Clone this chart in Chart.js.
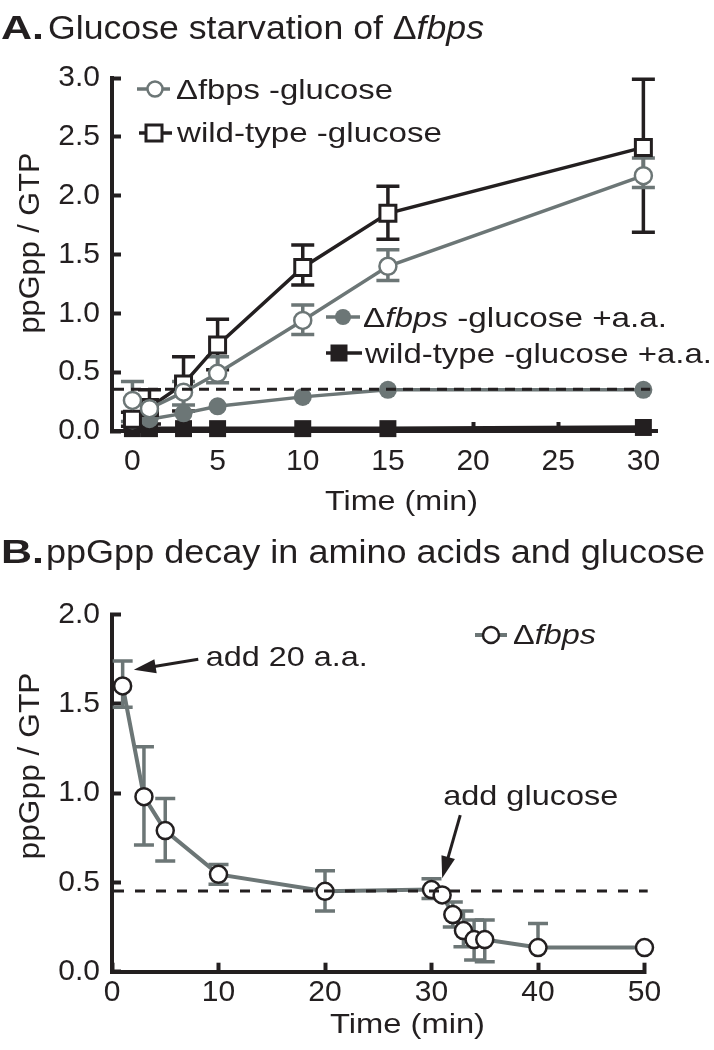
<!DOCTYPE html>
<html>
<head>
<meta charset="utf-8">
<script src="https://cdn.jsdelivr.net/npm/chart.js@4.4.1/dist/chart.umd.min.js"></script>
<style>
  html, body { margin: 0; padding: 0; background: #fff; }
  #wrap { position: relative; width: 714px; height: 1050px; }
  canvas { position: absolute; left: 0; }
  #chart-a { top: 0; }
  #chart-b { top: 520px; }
</style>
</head>
<body>
<div id="wrap">
  <canvas id="chart-a" width="714" height="520"></canvas>
  <canvas id="chart-b" width="714" height="530"></canvas>
</div>
<script>
const INK = '#231f20';
const GREY = '#6c7676';
const FONT = "'Liberation Sans', Arial, Helvetica, sans-serif";

// ---- Panel A: glucose starvation ----
const timesA = [0, 1, 3, 5, 10, 15, 30];
const fbpsGlc = [0.26, 0.19, 0.33, 0.49, 0.94, 1.40, 2.17];
const fbpsGlcHi = [0.42, 0.19, 0.42, 0.63, 1.07, 1.54, 2.32];
const fbpsGlcLo = [0.08, 0.19, 0.22, 0.41, 0.82, 1.28, 2.07];
const wtGlc = [0.10, 0.20, 0.40, 0.73, 1.39, 1.85, 2.41];
const wtGlcHi = [0.16, 0.35, 0.63, 0.95, 1.58, 2.08, 2.99];
const wtGlcLo = [0.04, 0.06, 0.17, 0.52, 1.24, 1.63, 1.69];
const fbpsAA = [0.09, 0.10, 0.15, 0.21, 0.29, 0.35, 0.35];
const wtAA = [0.02, 0.02, 0.02, 0.02, 0.02, 0.02, 0.03];
const xTicksA = [0, 5, 10, 15, 20, 25, 30];
const yTicksA = [0, 0.5, 1.0, 1.5, 2.0, 2.5, 3.0];
const dashLevelA = 0.355;

// ---- Panel B: decay after amino acids, then glucose ----
const timesB = [1, 3, 5, 10, 20, 30, 31, 32, 33, 34, 35, 40, 50];
const fbpsB = [1.60, 0.98, 0.79, 0.545, 0.45, 0.46, 0.43, 0.32, 0.23, 0.18, 0.18, 0.135, 0.135];
const fbpsBHi = [1.74, 1.26, 0.97, 0.60, 0.565, 0.52, 0.43, 0.39, 0.34, 0.29, 0.29, 0.27, 0.135];
const fbpsBLo = [1.48, 0.71, 0.62, 0.49, 0.34, 0.41, 0.43, 0.25, 0.14, 0.065, 0.056, 0.135, 0.135];
const xTicksB = [0, 10, 20, 30, 40, 50];
const yTicksB = [0, 0.5, 1.0, 1.5, 2.0];
const dashLevelB = 0.452;

Chart.defaults.font.family = FONT;
Chart.defaults.color = INK;

const pts = (xs, ys) => xs.map((x, i) => ({ x: x, y: ys[i] }));

function drawText(ctx, parts, x, y, size, width, opts) {
  opts = opts || {};
  ctx.save();
  ctx.fillStyle = INK;
  ctx.textBaseline = 'alphabetic';
  ctx.textAlign = 'left';
  const fontOf = s => (s || '') + ' ' + size + 'px ' + FONT;
  let total = 0;
  parts.forEach(p => { ctx.font = fontOf(p[1]); total += ctx.measureText(p[0]).width; });
  const sx = width ? width / total : 1;
  ctx.translate(x, y);
  if (opts.rotate) ctx.rotate(opts.rotate);
  if (opts.center) ctx.translate(-total * sx / 2, 0);
  ctx.scale(sx, 1);
  let cx = 0;
  parts.forEach(p => { ctx.font = fontOf(p[1]); ctx.fillText(p[0], cx, 0); cx += ctx.measureText(p[0]).width; });
  ctx.restore();
}

function drawArrow(ctx, x1, y1, x2, y2) {
  const ang = Math.atan2(y2 - y1, x2 - x1), head = 22, half = 7;
  ctx.save();
  ctx.strokeStyle = INK; ctx.fillStyle = INK; ctx.lineWidth = 3;
  ctx.beginPath();
  ctx.moveTo(x1, y1);
  ctx.lineTo(x2 - head * 0.8 * Math.cos(ang), y2 - head * 0.8 * Math.sin(ang));
  ctx.stroke();
  ctx.translate(x2, y2); ctx.rotate(ang);
  ctx.beginPath(); ctx.moveTo(0, 0); ctx.lineTo(-head, -half); ctx.lineTo(-head, half); ctx.closePath(); ctx.fill();
  ctx.restore();
}

function legendLine(ctx, x1, x2, y, color, w) {
  ctx.save(); ctx.strokeStyle = color; ctx.lineWidth = w;
  ctx.beginPath(); ctx.moveTo(x1, y); ctx.lineTo(x2, y); ctx.stroke(); ctx.restore();
}
function legendCircle(ctx, x, y, r, fill, stroke, w) {
  ctx.save(); ctx.beginPath(); ctx.arc(x, y, r, 0, Math.PI * 2);
  ctx.fillStyle = fill; ctx.fill();
  if (w) { ctx.strokeStyle = stroke; ctx.lineWidth = w; ctx.stroke(); }
  ctx.restore();
}
function legendSquare(ctx, x, y, side, fill, stroke, w) {
  ctx.save(); ctx.beginPath(); ctx.rect(x - side / 2, y - side / 2, side, side);
  ctx.fillStyle = fill; ctx.fill();
  if (w) { ctx.strokeStyle = stroke; ctx.lineWidth = w; ctx.stroke(); }
  ctx.restore();
}

// error bars go under the markers
function errorBars(sets, cap) {
  return {
    id: 'errorBars',
    beforeDatasetsDraw(chart) {
      const { ctx, scales: { x, y } } = chart;
      ctx.save();
      ctx.lineWidth = 3.5;
      sets.forEach(s => {
        ctx.strokeStyle = s.color;
        s.times.forEach((t, i) => {
          const v = s.vals[i], hi = s.hi[i], lo = s.lo[i];
          if (hi === lo) return;
          const px = x.getPixelForValue(t), ph = y.getPixelForValue(hi), pl = y.getPixelForValue(lo);
          ctx.beginPath();
          ctx.moveTo(px, ph); ctx.lineTo(px, pl);
          if (hi > v) { ctx.moveTo(px - cap, ph); ctx.lineTo(px + cap, ph); }
          if (lo < v) { ctx.moveTo(px - cap, pl); ctx.lineTo(px + cap, pl); }
          ctx.stroke();
        });
      });
      ctx.restore();
    }
  };
}

function dashedLevel(level, endT, dash) {
  return {
    id: 'dashedLevel',
    afterDatasetsDraw(chart) {
      const { ctx, chartArea, scales: { x, y } } = chart;
      const py = y.getPixelForValue(level);
      ctx.save();
      ctx.strokeStyle = INK; ctx.lineWidth = 3; ctx.setLineDash(dash);
      ctx.beginPath(); ctx.moveTo(chartArea.left + 2, py); ctx.lineTo(x.getPixelForValue(endT), py); ctx.stroke();
      ctx.restore();
    }
  };
}

function axisScales(xMin, xMax, xTicks, yMax, yTicks, yWidth, xHeight, xPad) {
  const grid = { drawOnChartArea: false, tickLength: -9, tickWidth: 4, color: INK };
  const border = { width: 4, color: INK };
  return {
    x: {
      type: 'linear', min: xMin, max: xMax,
      afterBuildTicks: s => { s.ticks = xTicks.map(v => ({ value: v })); },
      afterFit: s => { s.height = xHeight; },
      ticks: { color: INK, font: { size: 30 }, padding: xPad, maxRotation: 0, callback: v => String(v) },
      grid: grid, border: border
    },
    y: {
      type: 'linear', min: 0, max: yMax,
      afterBuildTicks: s => { s.ticks = yTicks.map(v => ({ value: v })); },
      afterFit: s => { s.width = yWidth; },
      ticks: { color: INK, font: { size: 30 }, padding: 21, callback: v => v.toFixed(1) },
      grid: grid, border: border
    }
  };
}

const textA = {
  id: 'textA',
  afterDraw(chart) {
    const ctx = chart.ctx;
    drawText(ctx, [['A.', 'bold']], 1, 39, 34, 43);
    drawText(ctx, [['Glucose starvation of \u0394', ''], ['fbps', 'italic']], 48, 39, 33, 436);
    drawText(ctx, [['ppGpp / GTP', '']], 39, 243, 30, 181, { rotate: -Math.PI / 2, center: true });
    drawText(ctx, [['Time (min)', '']], 325, 510, 28, 153);

    legendLine(ctx, 137, 170, 89, GREY, 3.5);
    legendCircle(ctx, 155, 89, 7.5, '#fff', GREY, 2.5);
    drawText(ctx, [['\u0394fbps -glucose', '']], 176, 99, 28, 217);

    legendLine(ctx, 139, 172, 133, INK, 3.5);
    legendSquare(ctx, 154, 133, 16, '#fff', INK, 3);
    drawText(ctx, [['wild-type -glucose', '']], 177, 142, 28, 265);

    legendLine(ctx, 326, 360, 317, GREY, 3.5);
    legendCircle(ctx, 343, 317, 8, GREY, GREY, 0);
    drawText(ctx, [['\u0394', ''], ['fbps', 'italic'], [' -glucose +a.a.', '']], 363, 327, 28, 304);

    legendLine(ctx, 326, 362, 353, INK, 3.5);
    legendSquare(ctx, 339, 353, 17, INK, INK, 0);
    drawText(ctx, [['wild-type -glucose +a.a.', '']], 365, 363, 28, 347);
  }
};

const textB = {
  id: 'textB',
  afterDraw(chart) {
    const { ctx, scales: { x, y } } = chart;
    drawText(ctx, [['B.', 'bold']], 1, 43, 34, 43);
    drawText(ctx, [['ppGpp decay in amino acids and glucose', '']], 46, 43, 33, 659);
    drawText(ctx, [['ppGpp / GTP', '']], 39, 246, 30, 187, { rotate: -Math.PI / 2, center: true });
    drawText(ctx, [['Time (min)', '']], 330, 513, 28, 155);

    legendLine(ctx, 475, 507, 115, GREY, 4);
    legendCircle(ctx, 491, 115, 8, '#fff', INK, 2.5);
    drawText(ctx, [['\u0394', ''], ['fbps', 'italic']], 513, 124, 28, 83);

    drawText(ctx, [['add 20 a.a.', '']], x.getPixelForValue(8.8), y.getPixelForValue(1.71), 28, 162);
    drawArrow(ctx, x.getPixelForValue(8.1), y.getPixelForValue(1.75), x.getPixelForValue(2.05), y.getPixelForValue(1.69));
    drawText(ctx, [['add glucose', '']], x.getPixelForValue(31.1), y.getPixelForValue(0.933), 28, 175);
    drawArrow(ctx, x.getPixelForValue(32.7), y.getPixelForValue(0.877), x.getPixelForValue(31.0), y.getPixelForValue(0.523));
  }
};

const common = {
  responsive: false,
  animation: false,
  events: [],
  plugins: { legend: { display: false }, tooltip: { enabled: false } }
};

new Chart(document.getElementById('chart-a'), {
  type: 'line',
  data: {
    datasets: [
      {
        data: pts(timesA, fbpsGlc), borderColor: GREY, borderWidth: 3.5, clip: false,
        pointStyle: 'circle', pointRadius: 8.5, pointBorderWidth: 2.5,
        pointBackgroundColor: '#fff', pointBorderColor: GREY
      },
      {
        data: pts(timesA, wtGlc), borderColor: INK, borderWidth: 3.5, clip: false,
        pointStyle: 'rect', pointRadius: 11.3, pointBorderWidth: 3,
        pointBackgroundColor: '#fff', pointBorderColor: INK
      },
      {
        data: pts(timesA, fbpsAA), borderColor: GREY, borderWidth: 3.5, clip: false,
        pointStyle: 'circle', pointRadius: 9, pointBorderWidth: 0,
        pointBackgroundColor: GREY, pointBorderColor: GREY
      },
      {
        data: pts(timesA, wtAA), borderColor: INK, borderWidth: 4.5, clip: false,
        pointStyle: 'rect', pointRadius: 12, pointBorderWidth: 0,
        pointBackgroundColor: INK, pointBorderColor: INK
      }
    ]
  },
  options: Object.assign({}, common, {
    layout: { padding: { top: 78, right: 57, left: 0, bottom: 0 } },
    scales: axisScales(-1.2, 30.8, xTicksA, 3.0, yTicksA, 112, 89, 22)
  }),
  plugins: [
    errorBars([
      { times: timesA, vals: wtGlc, hi: wtGlcHi, lo: wtGlcLo, color: INK },
      { times: timesA, vals: fbpsGlc, hi: fbpsGlcHi, lo: fbpsGlcLo, color: GREY }
    ], 11.5),
    dashedLevel(dashLevelA, 30.4, [10, 7]),
    textA
  ]
});

new Chart(document.getElementById('chart-b'), {
  type: 'line',
  data: {
    datasets: [
      {
        data: pts(timesB, fbpsB), borderColor: GREY, borderWidth: 4, clip: false,
        pointStyle: 'circle', pointRadius: 8.5, pointBorderWidth: 2.5,
        pointBackgroundColor: '#fff', pointBorderColor: INK
      }
    ]
  },
  options: Object.assign({}, common, {
    layout: { padding: { top: 94.5, right: 69.5, left: 0, bottom: 0 } },
    scales: axisScales(0, 50, xTicksB, 2.0, yTicksB, 112, 78.3, 12)
  }),
  plugins: [
    errorBars([
      { times: timesB, vals: fbpsB, hi: fbpsBHi, lo: fbpsBLo, color: GREY }
    ], 10),
    dashedLevel(dashLevelB, 50.3, [10, 11]),
    textB
  ]
});
</script>
</body>
</html>
